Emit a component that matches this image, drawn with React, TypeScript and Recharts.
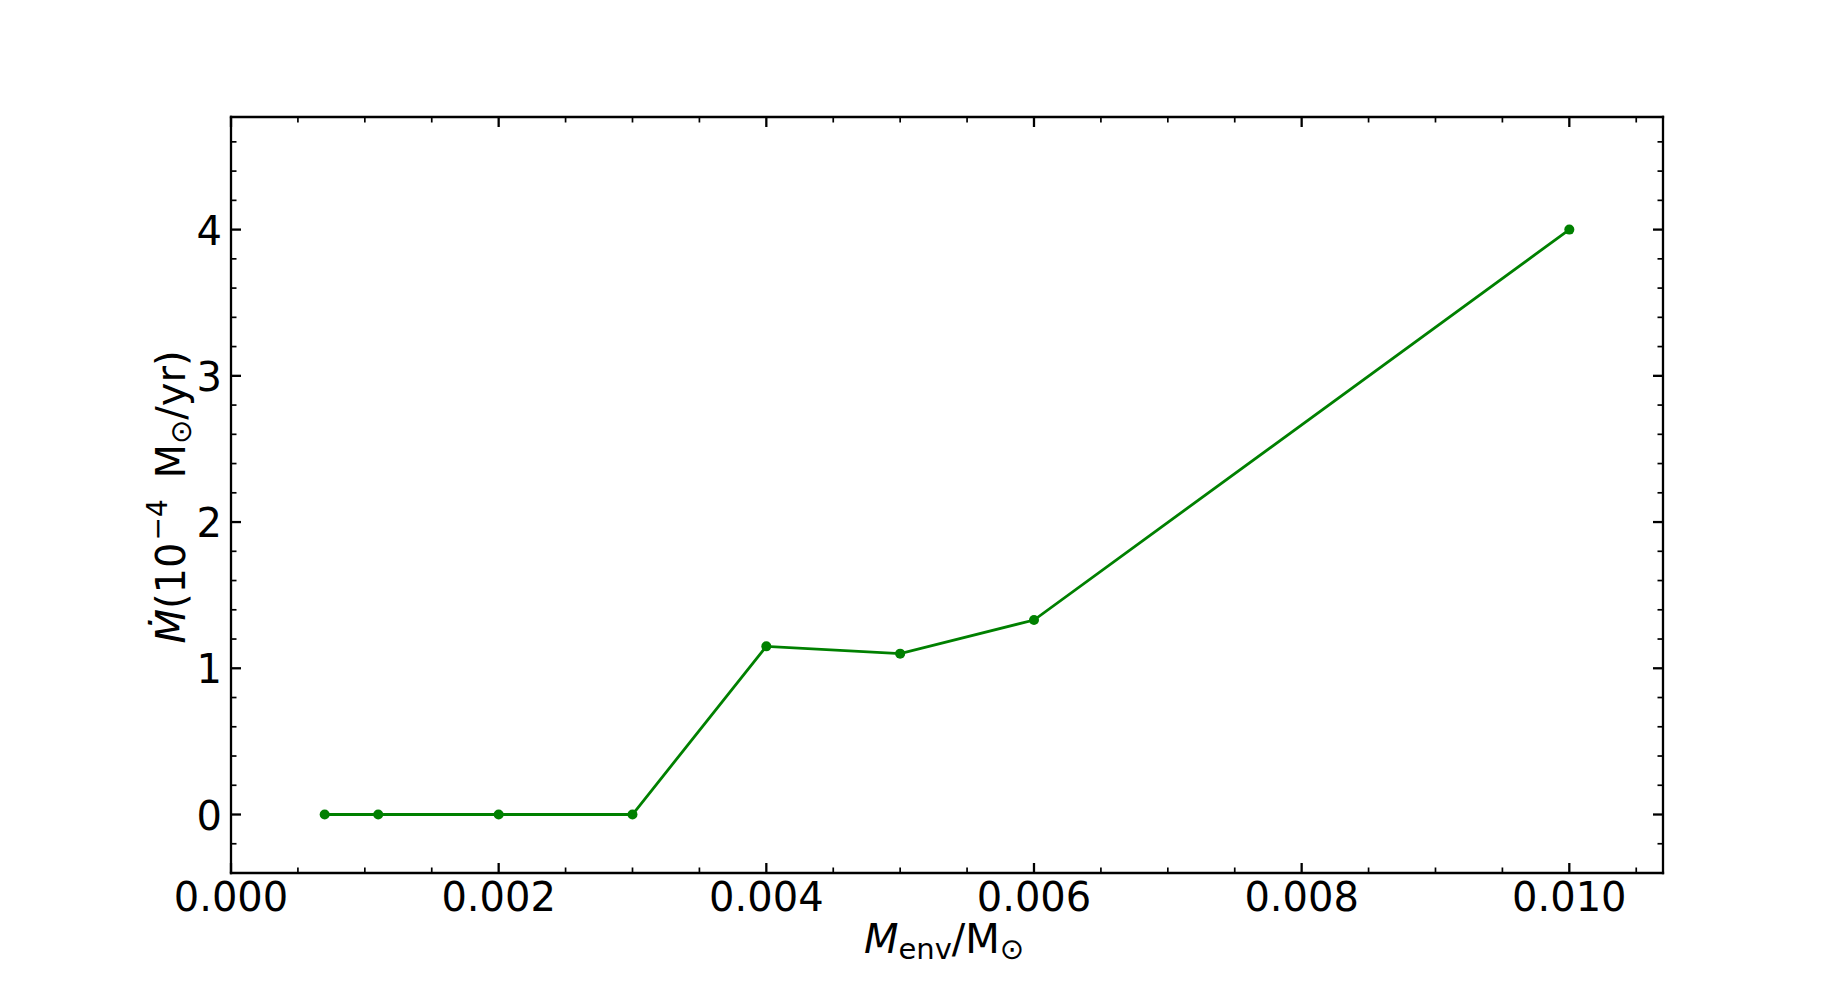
import React from "react";
import { LineChart, Line, XAxis, YAxis } from "recharts";

// envelope mass (Msun) and mass-loss rate (1e-4 Msun/yr)
const envMass = [0.0007, 0.0011, 0.002, 0.003, 0.004, 0.005, 0.006, 0.01];
const massLossRate = [0, 0, 0, 0, 1.15, 1.1, 1.33, 4.0];

const xMajorTicks = [0, 0.002, 0.004, 0.006, 0.008, 0.01];
const xTickLabels = ["0.000", "0.002", "0.004", "0.006", "0.008", "0.010"];
const xMinorTicks = [0.0005, 0.001, 0.0015, 0.0025, 0.003, 0.0035, 0.0045, 0.005, 0.0055, 0.0065, 0.007, 0.0075, 0.0085, 0.009, 0.0095, 0.0105];

const yMajorTicks = [0, 1, 2, 3, 4];
const yTickLabels = ["0", "1", "2", "3", "4"];
const yMinorTicks = [-0.4, -0.2, 0.2, 0.4, 0.6, 0.8, 1.2, 1.4, 1.6, 1.8, 2.2, 2.4, 2.6, 2.8, 3.2, 3.4, 3.6, 3.8, 4.2, 4.4, 4.6];

const data = envMass.map((m, i) => ({ m, rate: massLossRate[i] }));

const xTicks = [...xMajorTicks, ...xMinorTicks].sort((a, b) => a - b);
const yTicks = [...yMajorTicks, ...yMinorTicks].sort((a, b) => a - b);

const FONT = "'DejaVu Sans', sans-serif";
const GREEN = "#008000";
const MAJOR_LEN = 10;
const MINOR_LEN = 5.5;
const MAJOR_W = 2.3;
const MINOR_W = 1.7;

const W = 1848;
const H = 982;
const PLOT = { left: 231, top: 117, right: 1663, bottom: 873 };

const majorIndex = (list: number[], v: number) =>
  list.findIndex((t) => Math.abs(t - v) < 1e-9);

function BottomTick({ x, y, payload }: any) {
  const idx = majorIndex(xMajorTicks, payload.value);
  const major = idx >= 0;
  return (
    <g>
      <line x1={x} y1={y} x2={x} y2={y - (major ? MAJOR_LEN : MINOR_LEN)} stroke="#000" strokeWidth={major ? MAJOR_W : MINOR_W} />
      {major && (
        <text x={x} y={y + 38} textAnchor="middle" fontSize={40} fontFamily={FONT} fill="#000">
          {xTickLabels[idx]}
        </text>
      )}
    </g>
  );
}

function TopTick({ x, y, payload }: any) {
  const major = majorIndex(xMajorTicks, payload.value) >= 0;
  return <line x1={x} y1={y} x2={x} y2={y + (major ? MAJOR_LEN : MINOR_LEN)} stroke="#000" strokeWidth={major ? MAJOR_W : MINOR_W} />;
}

function LeftTick({ x, y, payload }: any) {
  const idx = majorIndex(yMajorTicks, payload.value);
  const major = idx >= 0;
  return (
    <g>
      <line x1={x} y1={y} x2={x + (major ? MAJOR_LEN : MINOR_LEN)} y2={y} stroke="#000" strokeWidth={major ? MAJOR_W : MINOR_W} />
      {major && (
        <text x={x - 9} y={y + 15} textAnchor="end" fontSize={40} fontFamily={FONT} fill="#000">
          {yTickLabels[idx]}
        </text>
      )}
    </g>
  );
}

function RightTick({ x, y, payload }: any) {
  const major = majorIndex(yMajorTicks, payload.value) >= 0;
  return <line x1={x} y1={y} x2={x - (major ? MAJOR_LEN : MINOR_LEN)} y2={y} stroke="#000" strokeWidth={major ? MAJOR_W : MINOR_W} />;
}

function XTitle() {
  const cx = (PLOT.left + PLOT.right) / 2 - 3;
  return (
    <text x={cx} y={953} textAnchor="middle" fontSize={40} fontFamily={FONT} fill="#000">
      <tspan fontStyle="italic">M</tspan>
      <tspan fontSize={29} dy={6}>env</tspan>
      <tspan dy={-6}>/M</tspan>
      <tspan fontSize={29} dy={6}>⊙</tspan>
    </text>
  );
}

function YTitle() {
  const bx = 185;
  const cy = (PLOT.top + PLOT.bottom) / 2 + 2;
  return (
    <text x={bx} y={cy} textAnchor="middle" fontSize={40} fontFamily={FONT} fill="#000" transform={`rotate(-90, ${bx}, ${cy})`}>
      <tspan fontStyle="italic">Ṁ</tspan>
      <tspan>(10</tspan>
      <tspan fontSize={28} dx={2} dy={-18}>−4</tspan>
      <tspan dx={8} dy={18}> M</tspan>
      <tspan fontSize={29} dy={6}>⊙</tspan>
      <tspan dy={-6}>/yr)</tspan>
    </text>
  );
}

const frame = { stroke: "#000", strokeWidth: 2.3, strokeLinecap: "square" as const };

export default function App() {
  return (
    <div style={{ position: "absolute", left: 0, top: 0, width: W, height: H, background: "#fff", fontFamily: FONT }}>
      <LineChart
        width={W}
        height={H}
        data={data}
        margin={{ top: PLOT.top - 1, right: W - PLOT.right - 1, bottom: H - PLOT.bottom - 1, left: PLOT.left - 1 }}
      >
        <XAxis
          xAxisId="bottom"
          dataKey="m"
          type="number"
          domain={[0, 0.0107]}
          allowDataOverflow
          ticks={xTicks}
          interval={0}
          height={1}
          tickSize={0}
          tickMargin={0}
          tickLine={false}
          axisLine={frame}
          tick={(p: any) => <BottomTick {...p} />}
          label={{ content: () => <XTitle /> }}
        />
        <XAxis
          xAxisId="top"
          orientation="top"
          dataKey="m"
          type="number"
          domain={[0, 0.0107]}
          allowDataOverflow
          ticks={xTicks}
          interval={0}
          height={1}
          tickSize={0}
          tickMargin={0}
          tickLine={false}
          axisLine={frame}
          tick={(p: any) => <TopTick {...p} />}
        />
        <YAxis
          yAxisId="left"
          type="number"
          domain={[-0.4, 4.77]}
          allowDataOverflow
          ticks={yTicks}
          interval={0}
          width={1}
          tickSize={0}
          tickMargin={0}
          tickLine={false}
          axisLine={frame}
          tick={(p: any) => <LeftTick {...p} />}
          label={{ content: () => <YTitle /> }}
        />
        <YAxis
          yAxisId="right"
          orientation="right"
          type="number"
          domain={[-0.4, 4.77]}
          allowDataOverflow
          ticks={yTicks}
          interval={0}
          width={1}
          tickSize={0}
          tickMargin={0}
          tickLine={false}
          axisLine={frame}
          tick={(p: any) => <RightTick {...p} />}
        />
        <Line
          xAxisId="bottom"
          yAxisId="left"
          type="linear"
          dataKey="rate"
          stroke={GREEN}
          strokeWidth={2.8}
          dot={{ r: 5, fill: GREEN, stroke: GREEN, strokeWidth: 0 }}
          activeDot={false}
          isAnimationActive={false}
        />
      </LineChart>
    </div>
  );
}
